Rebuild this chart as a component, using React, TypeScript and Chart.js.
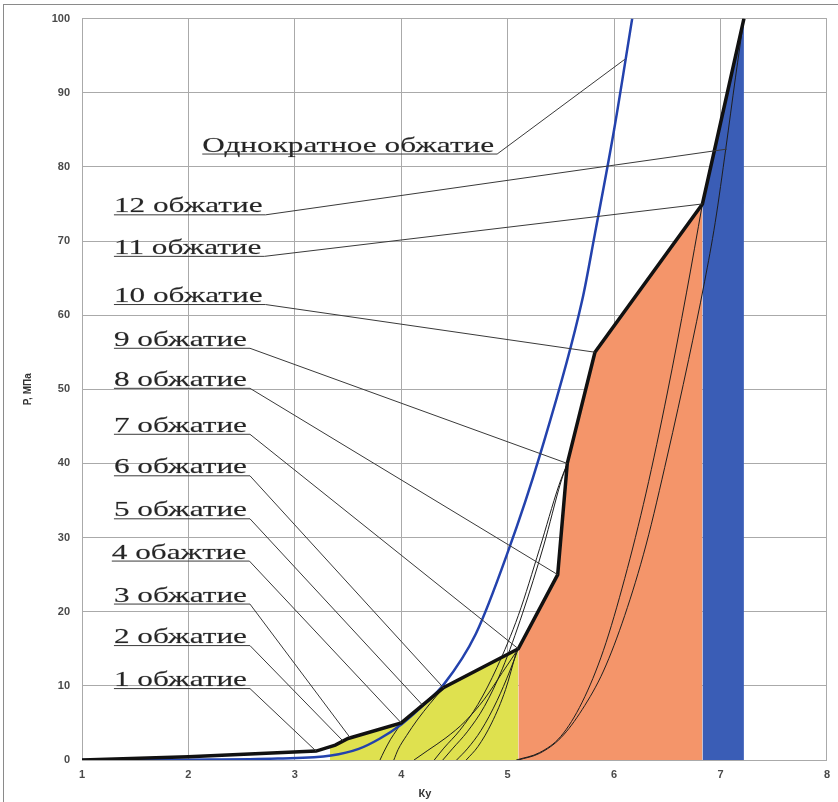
import React, { useEffect, useRef } from "react";
import { Chart, registerables } from "chart.js";

Chart.register(...registerables);

// ---------- data ----------
const xMin = 1;
const xMax = 8;
const yMin = 0;
const yMax = 100;
const xStep = 1;
const yStep = 10;

// thick black envelope
const envelopeX = [1, 2, 3.2, 3.38, 3.5, 4.0, 4.4, 5.1, 5.47, 5.56, 5.82, 6.83, 7.22];
const envelopeY = [0, 0.45, 1.2, 2.0, 2.9, 5.0, 9.8, 15, 25, 40, 55, 75, 100];

// coloured zones under envelope
const zoneBounds = [3.33, 5.1, 6.83, 7.22];
const zoneColors = ["#dfe14f", "#f4956a", "#3a5db6"];

// single compression (blue curve)
const singleX = [1, 2, 2.84, 3.34, 3.6, 3.8, 4.0, 4.2, 4.4, 4.7, 5.0, 5.3, 5.7, 5.82, 6.0, 6.17];
const singleY = [0, 0.05, 0.2, 0.6, 1.5, 2.9, 4.8, 7.3, 10.2, 17, 28, 41, 62, 71, 85, 100];

// thin curves of successive compressions
const thinA_X = [3.8, 3.84, 3.9, 3.96, 4.0];
const thinA_Y = [0, 1.2, 2.8, 4.1, 5.0];
const thinB_X = [3.93, 3.97, 4.05, 4.15, 4.27, 4.4];
const thinB_Y = [0, 1.4, 3.3, 5.4, 7.6, 9.8];
const thinC_X = [4.12, 4.25, 4.42, 4.6, 4.78, 4.95, 5.1];
const thinC_Y = [0, 1.3, 3.0, 5.2, 8.2, 11.8, 15];
const thinD_X = [4.31, 4.4, 4.55, 4.72, 4.9, 5.1, 5.3, 5.48, 5.56];
const thinD_Y = [0, 1.6, 4.0, 7.5, 12.5, 19.5, 28.5, 37, 40];
const thinE_X = [4.39, 4.48, 4.62, 4.78, 4.95, 5.14, 5.34, 5.5, 5.56];
const thinE_Y = [0, 1.5, 3.8, 7.2, 12.3, 19.8, 29, 37.5, 40];
const thinF_X = [4.52, 4.62, 4.75, 4.9, 5.02, 5.1];
const thinF_Y = [0, 1.5, 4.0, 8.0, 12.0, 15];
const thinG_X = [4.61, 4.72, 4.85, 4.98, 5.08];
const thinG_Y = [0, 1.8, 5.0, 9.5, 14.5];
const thin11_X = [5.08, 5.3, 5.5, 5.7, 5.9, 6.1, 6.3, 6.5, 6.68, 6.83];
const thin11_Y = [0, 1, 3.2, 7.8, 14.8, 24.5, 36, 49.5, 63, 75];
const thin12_X = [5.1, 5.3, 5.5, 5.7, 5.9, 6.1, 6.3, 6.5, 6.7, 6.85, 6.95, 7.05, 7.14, 7.22];
const thin12_Y = [0, 0.9, 3, 6.8, 12, 19.5, 29, 41, 54, 64.5, 72.5, 82.5, 92, 100];

const thinCurvesX = [thinA_X, thinB_X, thinC_X, thinD_X, thinE_X, thinF_X, thinG_X, thin11_X, thin12_X];
const thinCurvesY = [thinA_Y, thinB_Y, thinC_Y, thinD_Y, thinE_Y, thinF_Y, thinG_Y, thin11_Y, thin12_Y];

// callout labels
const calloutText = [
  "Однократное обжатие",
  "12 обжатие",
  "11 обжатие",
  "10 обжатие",
  "9 обжатие",
  "8 обжатие",
  "7 обжатие",
  "6 обжатие",
  "5 обжатие",
  "4 обажтие",
  "3 обжатие",
  "2 обжатие",
  "1 обжатие",
];
const calloutX = [2.13, 1.3, 1.3, 1.3, 1.3, 1.3, 1.3, 1.3, 1.3, 1.28, 1.3, 1.3, 1.3];
const calloutY = [81.8, 73.6, 68.0, 61.5, 55.6, 50.2, 44.0, 38.4, 32.6, 26.9, 21.1, 15.5, 9.7];
const targetX = [6.1, 7.06, 6.83, 5.82, 5.56, 5.47, 5.1, 4.4, 4.2, 4.0, 3.52, 3.45, 3.2];
const targetY = [94.5, 82.4, 75, 55, 40, 25, 15, 9.7, 7.4, 5.0, 3.0, 2.6, 1.2];

const xTitle = "Ку";
const yTitle = "P, МПа";

// ---------- helpers ----------
const toPts = (xs: number[], ys: number[]) => xs.map((x, i) => ({ x, y: ys[i] }));

function envAt(x: number): number {
  for (let i = 0; i < envelopeX.length - 1; i++) {
    const a = envelopeX[i];
    const b = envelopeX[i + 1];
    if (x >= a && x <= b) {
      return envelopeY[i] + ((envelopeY[i + 1] - envelopeY[i]) * (x - a)) / (b - a);
    }
  }
  return envelopeY[envelopeY.length - 1];
}

function clipEnvelope(a: number, b: number) {
  const pts = [{ x: a, y: envAt(a) }];
  envelopeX.forEach((x, i) => {
    if (x > a && x < b) pts.push({ x, y: envelopeY[i] });
  });
  pts.push({ x: b, y: envAt(b) });
  return pts;
}

const SX = 1.42;

const calloutPlugin = {
  id: "callouts",
  beforeDraw(chart: any) {
    const { ctx, width, height } = chart;
    ctx.save();
    ctx.fillStyle = "#ffffff";
    ctx.fillRect(0, 0, width, height);
    ctx.strokeStyle = "#8a8a8a";
    ctx.lineWidth = 1;
    ctx.strokeRect(3.5, 4.5, width + 20, height + 20);
    ctx.restore();
  },
  afterDatasetsDraw(chart: any) {
    const { ctx } = chart;
    const xs = chart.scales.x;
    const ys = chart.scales.y;
    ctx.save();
    ctx.font = '22px "Liberation Serif"';
    ctx.textBaseline = "alphabetic";
    ctx.textAlign = "left";
    calloutText.forEach((t, i) => {
      const px = xs.getPixelForValue(calloutX[i]);
      const py = ys.getPixelForValue(calloutY[i]);
      const w = ctx.measureText(t).width * SX;
      ctx.save();
      ctx.translate(px, py - 2);
      ctx.scale(SX, 1);
      ctx.fillStyle = "#262626";
      ctx.fillText(t, 0, 0);
      ctx.strokeStyle = "rgba(38,38,38,0.35)";
      ctx.lineWidth = 0.4;
      ctx.strokeText(t, 0, 0);
      ctx.restore();
      ctx.strokeStyle = "#3a3a3a";
      ctx.lineWidth = 1;
      ctx.beginPath();
      ctx.moveTo(px, py + 0.5);
      ctx.lineTo(px + w + 3, py + 0.5);
      ctx.lineTo(xs.getPixelForValue(targetX[i]), ys.getPixelForValue(targetY[i]));
      ctx.stroke();
    });
    // x-axis title
    ctx.font = 'bold 11px "Liberation Sans"';
    ctx.fillStyle = "#333333";
    ctx.textAlign = "center";
    ctx.textBaseline = "middle";
    ctx.fillText(xTitle, 425, 794);
    ctx.restore();
  },
};

export default function App() {
  const ref = useRef<HTMLCanvasElement | null>(null);

  useEffect(() => {
    if (!ref.current) return;
    const datasets: any[] = [];

    datasets.push({
      data: toPts(envelopeX, envelopeY),
      borderColor: "#111111",
      borderWidth: 3.5,
      pointRadius: 0,
      tension: 0,
      fill: false,
      order: 1,
    });
    datasets.push({
      data: toPts(singleX, singleY),
      borderColor: "#2342ad",
      borderWidth: 2.5,
      pointRadius: 0,
      cubicInterpolationMode: "monotone",
      fill: false,
      order: 2,
    });
    thinCurvesX.forEach((xsArr, i) => {
      datasets.push({
        data: toPts(xsArr, thinCurvesY[i]),
        borderColor: "#1e1e1e",
        borderWidth: 1,
        pointRadius: 0,
        cubicInterpolationMode: "monotone",
        fill: false,
        order: 3,
      });
    });
    zoneColors.forEach((c, i) => {
      datasets.push({
        data: clipEnvelope(zoneBounds[i], zoneBounds[i + 1]),
        borderColor: c,
        borderWidth: 0,
        backgroundColor: c,
        pointRadius: 0,
        tension: 0,
        fill: "origin",
        order: 10,
      });
    });

    const tickFont = { family: '"Liberation Sans"', size: 11, weight: "bold" as const };

    const chart = new Chart(ref.current, {
      type: "line",
      data: { datasets },
      plugins: [calloutPlugin],
      options: {
        animation: false,
        responsive: true,
        maintainAspectRatio: false,
        layout: { padding: { top: 17, right: 4, left: 0, bottom: 0 } },
        plugins: {
          legend: { display: false },
          tooltip: { enabled: false },
        },
        scales: {
          x: {
            type: "linear",
            min: xMin,
            max: xMax,
            ticks: { stepSize: xStep, color: "#4a4a4a", font: tickFont, padding: 8 },
            grid: { color: "#aaaaaa", drawTicks: false },
            border: { color: "#aaaaaa" },
            afterFit: (s: any) => {
              s.height = 42;
            },
          },
          y: {
            type: "linear",
            min: yMin,
            max: yMax,
            ticks: { stepSize: yStep, color: "#4a4a4a", font: tickFont, padding: 12 },
            grid: { color: "#aaaaaa", drawTicks: false },
            border: { color: "#aaaaaa" },
            title: {
              display: true,
              text: yTitle,
              color: "#333333",
              font: { family: '"Liberation Sans"', size: 10, weight: "bold" },
              padding: { top: 22, bottom: 0 },
            },
            afterFit: (s: any) => {
              s.width = 82;
            },
          },
        },
      },
    });
    return () => chart.destroy();
  }, []);

  return (
    <div style={{ position: "absolute", left: 0, top: 0, width: 838, height: 802 }}>
      <canvas ref={ref} />
    </div>
  );
}
